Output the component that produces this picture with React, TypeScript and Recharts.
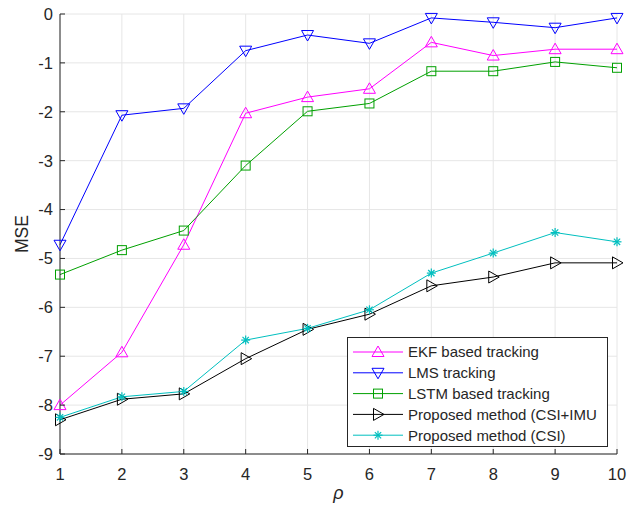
import React from 'react';
import { LineChart, Line, XAxis, YAxis, CartesianGrid } from 'recharts';

const rhoValues = [1, 2, 3, 4, 5, 6, 7, 8, 9, 10];
const ekfValues = [-8.0, -6.92, -4.72, -2.03, -1.7, -1.53, -0.58, -0.85, -0.72, -0.72];
const lmsValues = [-4.72, -2.07, -1.93, -0.75, -0.43, -0.6, -0.08, -0.17, -0.28, -0.08];
const lstmValues = [-5.33, -4.83, -4.43, -3.1, -1.99, -1.83, -1.17, -1.17, -0.98, -1.1];
const imuValues = [-8.3, -7.88, -7.77, -7.05, -6.45, -6.14, -5.56, -5.38, -5.09, -5.09];
const csiValues = [-8.25, -7.83, -7.72, -6.67, -6.43, -6.05, -5.3, -4.89, -4.47, -4.66];
const xTicks = [1, 2, 3, 4, 5, 6, 7, 8, 9, 10];
const yTicks = [-9, -8, -7, -6, -5, -4, -3, -2, -1, 0];

const seriesNames = [
  'EKF based tracking',
  'LMS tracking',
  'LSTM based tracking',
  'Proposed method (CSI+IMU',
  'Proposed method (CSI)',
];

const data = rhoValues.map((r, i) => ({
  rho: r,
  ekf: ekfValues[i],
  lms: lmsValues[i],
  lstm: lstmValues[i],
  imu: imuValues[i],
  csi: csiValues[i],
}));

const FONT = 'Liberation Sans, Arial, Helvetica, sans-serif';
const AXIS = '#262626';
const C_EKF = '#ff00ff';
const C_LMS = '#0000ff';
const C_LSTM = '#00a000';
const C_IMU = '#000000';
const C_CSI = '#00bfbf';
const TICK_FS = 16.5;

type Kind = 'up' | 'down' | 'square' | 'right' | 'star';

function Marker({ kind, cx, cy, color }: { kind: Kind; cx: number; cy: number; color: string }) {
  const s = 6;
  if (kind === 'up') {
    return <polygon points={`${cx},${cy - s} ${cx - s},${cy + s * 0.75} ${cx + s},${cy + s * 0.75}`} fill="none" stroke={color} strokeWidth={1} />;
  }
  if (kind === 'down') {
    return <polygon points={`${cx},${cy + s} ${cx - s},${cy - s * 0.75} ${cx + s},${cy - s * 0.75}`} fill="none" stroke={color} strokeWidth={1} />;
  }
  if (kind === 'right') {
    return <polygon points={`${cx + s},${cy} ${cx - s * 0.75},${cy - s} ${cx - s * 0.75},${cy + s}`} fill="none" stroke={color} strokeWidth={1} />;
  }
  if (kind === 'square') {
    const h = 4.5;
    return <rect x={cx - h} y={cy - h} width={2 * h} height={2 * h} fill="none" stroke={color} strokeWidth={1} />;
  }
  const r = 4.5;
  const d = r * 0.7;
  return (
    <g stroke={color} strokeWidth={1.2}>
      <line x1={cx - r} y1={cy} x2={cx + r} y2={cy} />
      <line x1={cx} y1={cy - r} x2={cx} y2={cy + r} />
      <line x1={cx - d} y1={cy - d} x2={cx + d} y2={cy + d} />
      <line x1={cx - d} y1={cy + d} x2={cx + d} y2={cy - d} />
    </g>
  );
}

const makeDot = (kind: Kind, color: string) => (props: any) => {
  const { cx, cy, index } = props;
  if (cx == null || cy == null) return <g key={index} />;
  return (
    <g key={`${kind}-${index}`}>
      <Marker kind={kind} cx={cx} cy={cy} color={color} />
    </g>
  );
};

const BottomTick = (props: any) => {
  const { x, y, payload } = props;
  const axisY = y - 14;
  return (
    <g>
      <line x1={x} y1={axisY} x2={x} y2={axisY - 5} stroke={AXIS} />
      <text x={x} y={y} dy="0.71em" textAnchor="middle" fontSize={TICK_FS} fill={AXIS} fontFamily={FONT}>
        {payload.value}
      </text>
    </g>
  );
};

const TopTick = (props: any) => {
  const { x, y } = props;
  return <line x1={x} y1={y} x2={x} y2={y + 5} stroke={AXIS} />;
};

const LeftTick = (props: any) => {
  const { x, y, payload } = props;
  const axisX = x + 7;
  return (
    <g>
      <line x1={axisX} y1={y} x2={axisX + 5} y2={y} stroke={AXIS} />
      <text x={x} y={y} dy="0.36em" textAnchor="end" fontSize={TICK_FS} fill={AXIS} fontFamily={FONT}>
        {payload.value}
      </text>
    </g>
  );
};

const RightTick = (props: any) => {
  const { x, y } = props;
  return <line x1={x} y1={y} x2={x - 5} y2={y} stroke={AXIS} />;
};

const legendItems: { name: string; color: string; kind: Kind }[] = [
  { name: seriesNames[0], color: C_EKF, kind: 'up' },
  { name: seriesNames[1], color: C_LMS, kind: 'down' },
  { name: seriesNames[2], color: C_LSTM, kind: 'square' },
  { name: seriesNames[3], color: C_IMU, kind: 'right' },
  { name: seriesNames[4], color: C_CSI, kind: 'star' },
];

const LegendBox = () => {
  const w = 261;
  const h = 110;
  return (
    <svg width={w} height={h} style={{ display: 'block', overflow: 'hidden' }}>
      <rect x={0.5} y={0.5} width={w - 1} height={h - 1} fill="#fff" stroke={AXIS} strokeWidth={1} />
      {legendItems.map((it, i) => {
        const cy = 15 + i * 20.8;
        return (
          <g key={it.name}>
            <line x1={6} y1={cy} x2={56} y2={cy} stroke={it.color} strokeWidth={1} />
            <Marker kind={it.kind} cx={31} cy={cy} color={it.color} />
            <text x={61} y={cy} dy="0.36em" fontSize={15} fill={AXIS} fontFamily={FONT}>
              {it.name}
            </text>
          </g>
        );
      })}
    </svg>
  );
};

export default function App() {
  return (
    <div style={{ position: 'absolute', left: 0, top: 0, width: 631, height: 510, background: '#fff' }}>
      <LineChart width={631} height={510} data={data} margin={{ top: 14, right: 14, left: 0, bottom: 0 }}>
        <CartesianGrid xAxisId="b" yAxisId="l" stroke="#e6e6e6" strokeWidth={1} />
        <XAxis
          xAxisId="b"
          dataKey="rho"
          type="number"
          domain={[1, 10]}
          ticks={xTicks}
          interval={0}
          height={56}
          tickSize={0}
          tickMargin={14}
          tickLine={false}
          axisLine={{ stroke: AXIS }}
          tick={<BottomTick />}
          label={{
            content: (p: any) => {
              const vb = p.viewBox || {};
              return (
                <text
                  x={vb.x + vb.width / 2}
                  y={vb.y + 45}
                  textAnchor="middle"
                  fontSize={18}
                  fontStyle="italic"
                  fill={AXIS}
                  fontFamily={FONT}
                >
                  ρ
                </text>
              );
            },
          }}
        />
        <XAxis
          xAxisId="t"
          orientation="top"
          dataKey="rho"
          type="number"
          domain={[1, 10]}
          ticks={xTicks}
          interval={0}
          height={0}
          tickSize={0}
          tickMargin={0}
          tickLine={false}
          axisLine={{ stroke: AXIS }}
          tick={<TopTick />}
        />
        <YAxis
          yAxisId="l"
          type="number"
          domain={[-9, 0]}
          ticks={yTicks}
          interval={0}
          width={60}
          tickSize={0}
          tickMargin={7}
          tickLine={false}
          axisLine={{ stroke: AXIS }}
          tick={<LeftTick />}
          label={{
            content: (p: any) => {
              const vb = p.viewBox || {};
              const x = vb.x + 22;
              const y = vb.y + vb.height / 2;
              return (
                <text
                  x={x}
                  y={y}
                  transform={`rotate(-90 ${x} ${y})`}
                  textAnchor="middle"
                  dy="0.36em"
                  fontSize={17.5}
                  fill={AXIS}
                  fontFamily={FONT}
                >
                  MSE
                </text>
              );
            },
          }}
        />
        <YAxis
          yAxisId="r"
          orientation="right"
          type="number"
          domain={[-9, 0]}
          ticks={yTicks}
          interval={0}
          width={0}
          tickSize={0}
          tickMargin={0}
          tickLine={false}
          axisLine={{ stroke: AXIS }}
          tick={<RightTick />}
        />
        <Line xAxisId="b" yAxisId="l" type="linear" dataKey="ekf" name={seriesNames[0]} stroke={C_EKF} strokeWidth={1} dot={makeDot('up', C_EKF)} activeDot={false} isAnimationActive={false} />
        <Line xAxisId="b" yAxisId="l" type="linear" dataKey="lms" name={seriesNames[1]} stroke={C_LMS} strokeWidth={1} dot={makeDot('down', C_LMS)} activeDot={false} isAnimationActive={false} />
        <Line xAxisId="b" yAxisId="l" type="linear" dataKey="lstm" name={seriesNames[2]} stroke={C_LSTM} strokeWidth={1} dot={makeDot('square', C_LSTM)} activeDot={false} isAnimationActive={false} />
        <Line xAxisId="b" yAxisId="l" type="linear" dataKey="imu" name={seriesNames[3]} stroke={C_IMU} strokeWidth={1} dot={makeDot('right', C_IMU)} activeDot={false} isAnimationActive={false} />
        <Line xAxisId="b" yAxisId="l" type="linear" dataKey="csi" name={seriesNames[4]} stroke={C_CSI} strokeWidth={1} dot={makeDot('star', C_CSI)} activeDot={false} isAnimationActive={false} />
      </LineChart>
      <div style={{ position: 'absolute', left: 347, top: 337, width: 261, height: 110 }}>
        <LegendBox />
      </div>
    </div>
  );
}
